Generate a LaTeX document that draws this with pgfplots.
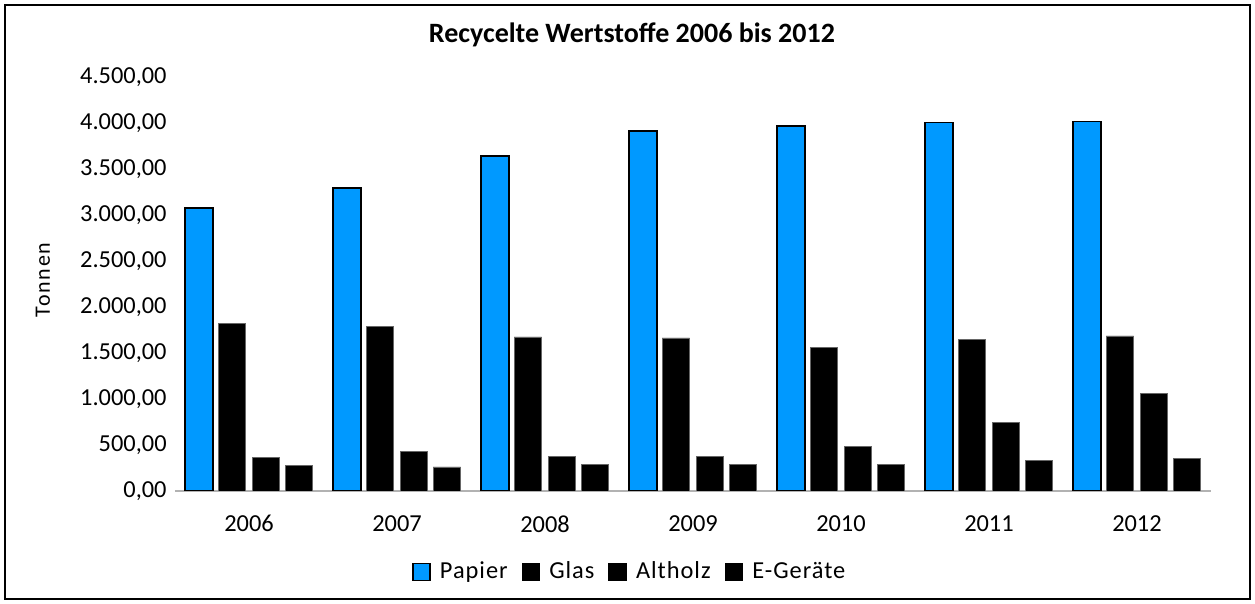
\documentclass[border=0pt]{standalone}
\usepackage{pgfplots}
\pgfplotsset{compat=1.18}
\usepackage{fontspec}
\setmainfont{Carlito}
\newfontfamily\spaced[LetterSpace=8]{Carlito}
\newfontfamily\spacedl[LetterSpace=4]{Carlito}
\definecolor{papier}{RGB}{0,153,255}
\begin{document}
\begin{tikzpicture}
\useasboundingbox (-87.5pt,-56.5pt) rectangle (540pt,245.5pt);
\draw[line width=0.8pt] (-85pt,-54pt) rectangle (537.5pt,243pt);
\begin{axis}[
  at={(0,0)}, anchor=south west, scale only axis,
  width=518pt, height=207pt,
  ybar, bar width=13.75pt,
  ymin=0, ymax=4500, ytick={0,500,...,4500},
  xmin=-0.5, xmax=6.5, xtick={0,1,2,3,4,5,6},
  xticklabels={2006,2007,2008,2009,2010,2011,2012},
  major tick length=0pt,
  axis x line*=bottom, axis y line*=left,
  x axis line style={draw=black!30, line width=0.9pt, -},
  y axis line style={draw=none},
  /pgf/number format/assume math mode=true,
  /pgf/number format/.cd, fixed, fixed zerofill, precision=2, use comma, 1000 sep={.},
  /pgfplots/.cd,
  tick label style={font=\fontsize{12.2}{14}\selectfont},
  yticklabel style={inner sep=0pt, xshift=-4pt},
  xticklabel style={inner sep=0pt, yshift=-12pt},
  every axis plot post/.append style={legend image code/.code={\draw[##1, draw=black, line width=0.8pt] (0pt,-4.25pt) rectangle (8.5pt,4.25pt);}},
  legend columns=4,
  legend style={at={(0.44,-0.1957)}, anchor=center, draw=none, fill=none,
    font=\spacedl\fontsize{12.2}{14}\selectfont,
    /tikz/every odd column/.append style={column sep=2.5pt},
    /tikz/every even column/.append style={column sep=5pt}},
]
\addplot[fill=papier, draw=black, line width=0.9pt, bar shift=-25pt] coordinates {(0,3078) (1,3293) (2,3641) (3,3913) (4,3967) (5,4006) (6,4017)};
\addplot[fill=black, draw=black!60, line width=0.4pt, bar shift=-8.5pt] coordinates {(0,1826) (1,1785) (2,1674) (3,1663) (4,1565) (5,1652) (6,1685)};
\addplot[fill=black, draw=black!60, line width=0.4pt, bar shift=8.5pt] coordinates {(0,368) (1,434) (2,380) (3,380) (4,489) (5,741) (6,1058)};
\addplot[fill=black, draw=black!60, line width=0.4pt, bar shift=25pt] coordinates {(0,281) (1,261) (2,293) (3,293) (4,293) (5,335) (6,355)};
\legend{Papier,Glas,Altholz,E-Geräte}
\end{axis}
\node[font=\bfseries\fontsize{14}{17}\selectfont, anchor=base] at (228.5pt,224pt) {Recycelte Wertstoffe 2006 bis 2012};
\node[font=\spaced\fontsize{11}{13}\selectfont, rotate=90] at (-66pt,105.5pt) {Tonnen};
\end{tikzpicture}
\end{document}
